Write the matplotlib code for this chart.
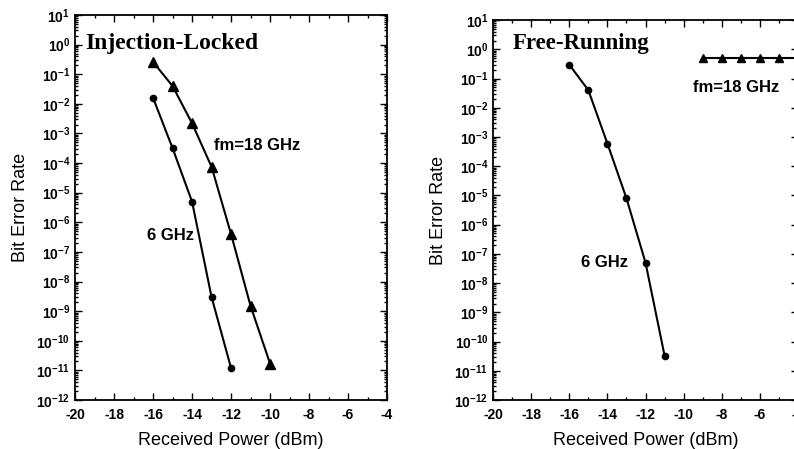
import math
import matplotlib
matplotlib.use('Agg')
import matplotlib.pyplot as plt
import matplotlib.ticker as ticker

plt.rcParams['font.family'] = ['Liberation Sans', 'DejaVu Sans']
plt.rcParams['mathtext.fontset'] = 'custom'
plt.rcParams['mathtext.bf'] = 'Liberation Sans:bold'
plt.rcParams['mathtext.rm'] = 'Liberation Sans:bold'

# injection-locked panel
il_x_18 = [-16, -15, -14, -13, -12, -11, -10]
il_ber_18 = [0.26, 0.04, 2.2e-3, 7.5e-5, 4e-7, 1.5e-9, 1.7e-11]
il_x_6 = [-16, -15, -14, -13, -12]
il_ber_6 = [0.016, 3.2e-4, 5e-6, 3e-9, 1.2e-11]

# free-running panel
fr_x_6 = [-16, -15, -14, -13, -12, -11]
fr_ber_6 = [0.3, 0.04, 6e-4, 8e-6, 5e-8, 3.3e-11]
fr_x_18 = [-9, -8, -7, -6, -5, -4]
fr_ber_18 = [0.5, 0.5, 0.5, 0.5, 0.5, 0.5]

x_ticks = [-20, -18, -16, -14, -12, -10, -8, -6, -4]

fig = plt.figure(figsize=(7.94, 4.49), dpi=100)
ax1 = fig.add_axes([0.0945, 0.1091, 0.393, 0.8575])
ax2 = fig.add_axes([0.621, 0.1091, 0.384, 0.846])


def style(ax):
    ax.set_yscale('log')
    ax.set_xlim(-20, -4)
    ax.set_ylim(1e-12, 10)
    ax.set_xticks(x_ticks)
    ax.xaxis.set_minor_locator(ticker.MultipleLocator(1))
    ax.yaxis.set_major_locator(ticker.LogLocator(base=10, numticks=20))
    ax.yaxis.set_minor_locator(ticker.LogLocator(base=10, subs=range(2, 10), numticks=20))
    ax.yaxis.set_minor_formatter(ticker.NullFormatter())
    ax.yaxis.set_major_formatter(ticker.FuncFormatter(
        lambda v, p: r'$\mathbf{10^{%d}}$' % round(math.log10(v))))
    ax.set_xticklabels([str(t) for t in x_ticks], fontweight='bold', fontsize=10)
    ax.tick_params(which='both', direction='in', top=True, right=True, width=1)
    ax.tick_params(which='major', length=5, labelsize=10)
    ax.tick_params(axis='x', pad=6)
    ax.tick_params(which='minor', length=2.5)
    for s in ax.spines.values():
        s.set_linewidth(1.3)
    ax.set_xlabel('Received Power (dBm)', fontsize=13, labelpad=7)
    ax.set_ylabel('Bit Error Rate', fontsize=13, labelpad=5)


style(ax1)
style(ax2)

ax1.plot(il_x_18, il_ber_18, color='black', marker='^', markersize=6.5, linewidth=1.5)
ax1.plot(il_x_6, il_ber_6, color='black', marker='o', markersize=4.5, linewidth=1.5)
ax1.text(-19.5, 1.1, 'Injection-Locked', family='Liberation Serif', fontweight='bold',
         fontsize=17, va='center', ha='left')
ax1.text(-12.9, 4e-4, 'fm=18 GHz', fontweight='bold', fontsize=12, va='center', ha='left')
ax1.text(-16.3, 3.7e-7, '6 GHz', fontweight='bold', fontsize=12, va='center', ha='left')

ax2.plot(fr_x_6, fr_ber_6, color='black', marker='o', markersize=4.5, linewidth=1.5)
ax2.plot(fr_x_18, fr_ber_18, color='black', marker='^', markersize=5.5, linewidth=1.5)
ax2.text(-18.95, 1.6, 'Free-Running', family='Liberation Serif', fontweight='bold',
         fontsize=16.5, va='center', ha='left')
ax2.text(-9.5, 5e-2, 'fm=18 GHz', fontweight='bold', fontsize=12, va='center', ha='left')
ax2.text(-15.4, 5e-8, '6 GHz', fontweight='bold', fontsize=12, va='center', ha='left')

fig.savefig('out.png', dpi=100)
